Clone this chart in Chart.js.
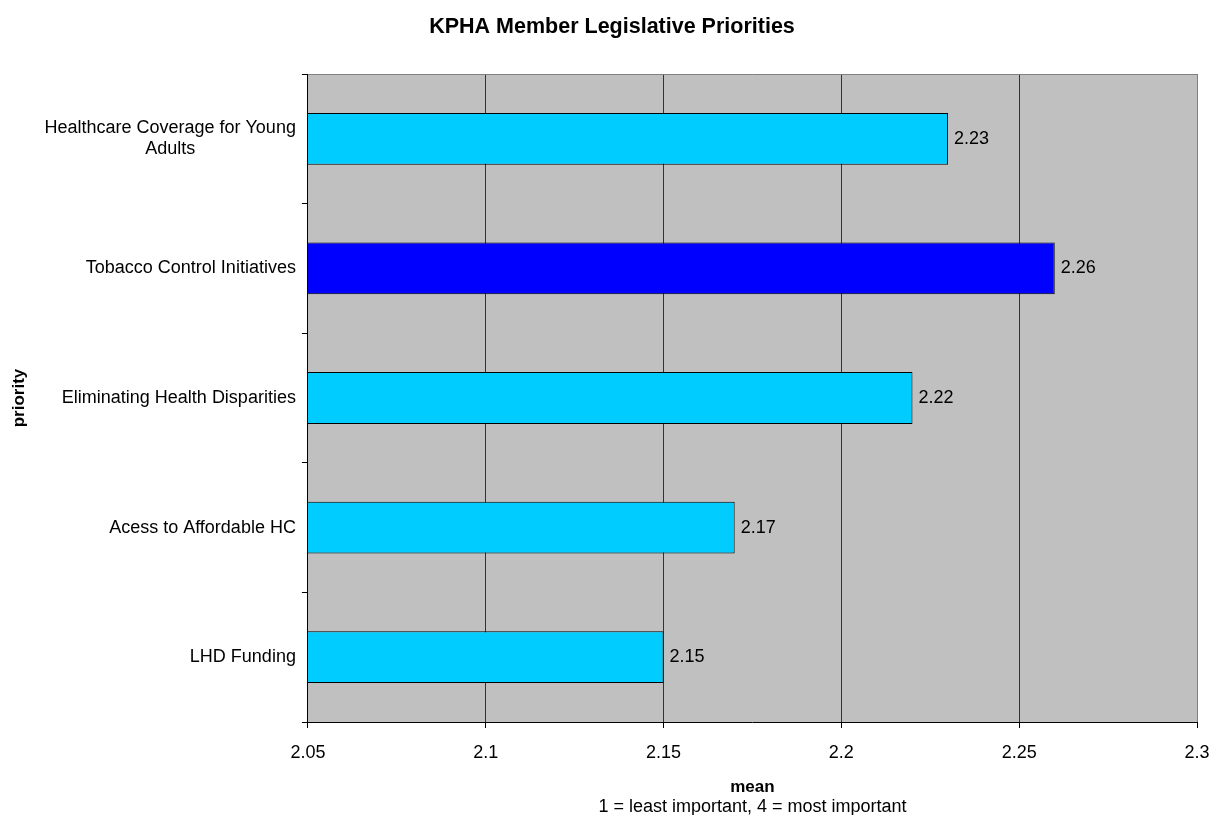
<!DOCTYPE html>
<html lang="en">
<head>
<meta charset="UTF-8">
<title>KPHA Member Legislative Priorities</title>
<script src="https://cdn.jsdelivr.net/npm/chart.js"></script>
<style>
    html, body { margin: 0; padding: 0; background: #ffffff; }
    #wrap { width: 1220px; height: 815px; }
</style>
</head>
<body>
<div id="wrap"><canvas id="kphaChart" width="1220" height="815"></canvas></div>
<script>
    const chartTitle = 'KPHA Member Legislative Priorities';
    const categories = [
        ['Healthcare Coverage for Young', 'Adults'],
        'Tobacco Control Initiatives',
        'Eliminating Health Disparities',
        'Acess to Affordable HC',
        'LHD Funding'
    ];
    const meanValues = [2.23, 2.26, 2.22, 2.17, 2.15];
    const barColors = ['#00CCFF', '#0000FF', '#00CCFF', '#00CCFF', '#00CCFF'];
    const xTicks = [2.05, 2.1, 2.15, 2.2, 2.25, 2.3];
    const xNote = '1 = least important, 4 = most important';

    const FONT = "'Liberation Sans', Arial, sans-serif";

    // grey plot area + top border + chart title
    const plotBackground = {
        id: 'plotBackground',
        beforeDraw(chart) {
            const { ctx, chartArea: { left, top, right, bottom } } = chart;
            ctx.save();
            ctx.fillStyle = '#ffffff';
            ctx.fillRect(0, 0, chart.width, chart.height);
            ctx.fillStyle = '#c0c0c0';
            ctx.fillRect(left, top, right - left, bottom - top);
            ctx.fillStyle = '#000000';
            ctx.font = 'bold 21.5px ' + FONT;
            ctx.textAlign = 'center';
            ctx.textBaseline = 'middle';
            ctx.fillText(chartTitle, chart.width / 2 + 2, 27);
            ctx.restore();
        },
        beforeDatasetsDraw(chart) {
            const { ctx, chartArea: { left, top, right } } = chart;
            ctx.save();
            ctx.strokeStyle = '#808080';
            ctx.lineWidth = 1;
            ctx.beginPath();
            ctx.moveTo(left, top + 0.5);
            ctx.lineTo(right, top + 0.5);
            ctx.stroke();
            ctx.restore();
        }
    };

    // value labels to the right of each bar
    const valueLabels = {
        id: 'valueLabels',
        afterDatasetsDraw(chart) {
            const { ctx } = chart;
            const meta = chart.getDatasetMeta(0);
            ctx.save();
            ctx.font = '18px ' + FONT;
            ctx.fillStyle = '#000000';
            ctx.textAlign = 'left';
            ctx.textBaseline = 'middle';
            meta.data.forEach((bar, i) => {
                ctx.fillText(meanValues[i].toFixed(2), bar.x + 6, bar.y);
            });
            ctx.restore();
        }
    };

    // category labels: block right-aligned, lines centred inside the block (like Excel)
    const categoryLabels = {
        id: 'categoryLabels',
        afterDraw(chart) {
            const { ctx } = chart;
            const y = chart.scales.y;
            const rightEdge = y.right - 6 - 6;
            ctx.save();
            ctx.font = '18px ' + FONT;
            ctx.fillStyle = '#000000';
            ctx.textAlign = 'center';
            ctx.textBaseline = 'middle';
            categories.forEach((label, i) => {
                const lines = Array.isArray(label) ? label : [label];
                const blockW = Math.max(...lines.map(l => ctx.measureText(l).width));
                const cx = rightEdge - blockW / 2;
                const cy = y.getPixelForTick(i);
                const lh = 21;
                lines.forEach((l, j) => {
                    ctx.fillText(l, cx, cy + (j - (lines.length - 1) / 2) * lh);
                });
            });
            ctx.restore();
        }
    };

    // second line under the x axis title
    const xSubtitle = {
        id: 'xSubtitle',
        afterDraw(chart) {
            const { ctx, chartArea: { left, right, bottom } } = chart;
            ctx.save();
            ctx.font = '18px ' + FONT;
            ctx.fillStyle = '#000000';
            ctx.textAlign = 'center';
            ctx.textBaseline = 'middle';
            ctx.fillText(xNote, (left + right) / 2, bottom + 85);
            ctx.restore();
        }
    };

    new Chart(document.getElementById('kphaChart'), {
        type: 'bar',
        data: {
            labels: categories,
            datasets: [{
                data: meanValues,
                backgroundColor: barColors,
                borderColor: '#000000',
                borderWidth: 1,
                borderSkipped: false,
                categoryPercentage: 1,
                barPercentage: 0.4
            }]
        },
        options: {
            indexAxis: 'y',
            responsive: false,
            animation: false,
            layout: { padding: { left: 4, right: 23, top: 74, bottom: 15 } },
            plugins: {
                legend: { display: false },
                tooltip: { enabled: false },
                title: { display: false }
            },
            scales: {
                x: {
                    min: 2.05,
                    max: 2.3,
                    afterBuildTicks(scale) {
                        scale.ticks = xTicks.map(v => ({ value: v }));
                    },
                    afterFit(scale) {
                        scale.paddingRight = 0;
                    },
                    ticks: {
                        color: '#000000',
                        font: { family: FONT, size: 18 },
                        padding: 14,
                        maxRotation: 0,
                        callback: v => String(Math.round(v * 100) / 100)
                    },
                    grid: {
                        color: c => (c.tick && c.tick.value >= 2.3 - 1e-9) ? '#808080' : '#333333',
                        tickColor: '#000000',
                        tickLength: 6,
                        lineWidth: 1
                    },
                    border: { display: true, color: '#000000', width: 1 },
                    title: {
                        display: true,
                        text: 'mean',
                        color: '#000000',
                        font: { family: FONT, size: 17, weight: 'bold' },
                        padding: { top: 0, bottom: 2 }
                    }
                },
                y: {
                    offset: true,
                    ticks: {
                        color: 'rgba(0,0,0,0)',
                        font: { family: FONT, size: 18 },
                        padding: 6
                    },
                    grid: {
                        offset: true,
                        drawOnChartArea: false,
                        color: '#000000',
                        tickLength: 6
                    },
                    border: { display: true, color: '#000000', width: 1 },
                    title: {
                        display: true,
                        text: 'priority',
                        color: '#000000',
                        font: { family: FONT, size: 17, weight: 'bold' },
                        padding: { top: 5, bottom: 9 }
                    }
                }
            }
        },
        plugins: [plotBackground, valueLabels, categoryLabels, xSubtitle]
    });
</script>
</body>
</html>
